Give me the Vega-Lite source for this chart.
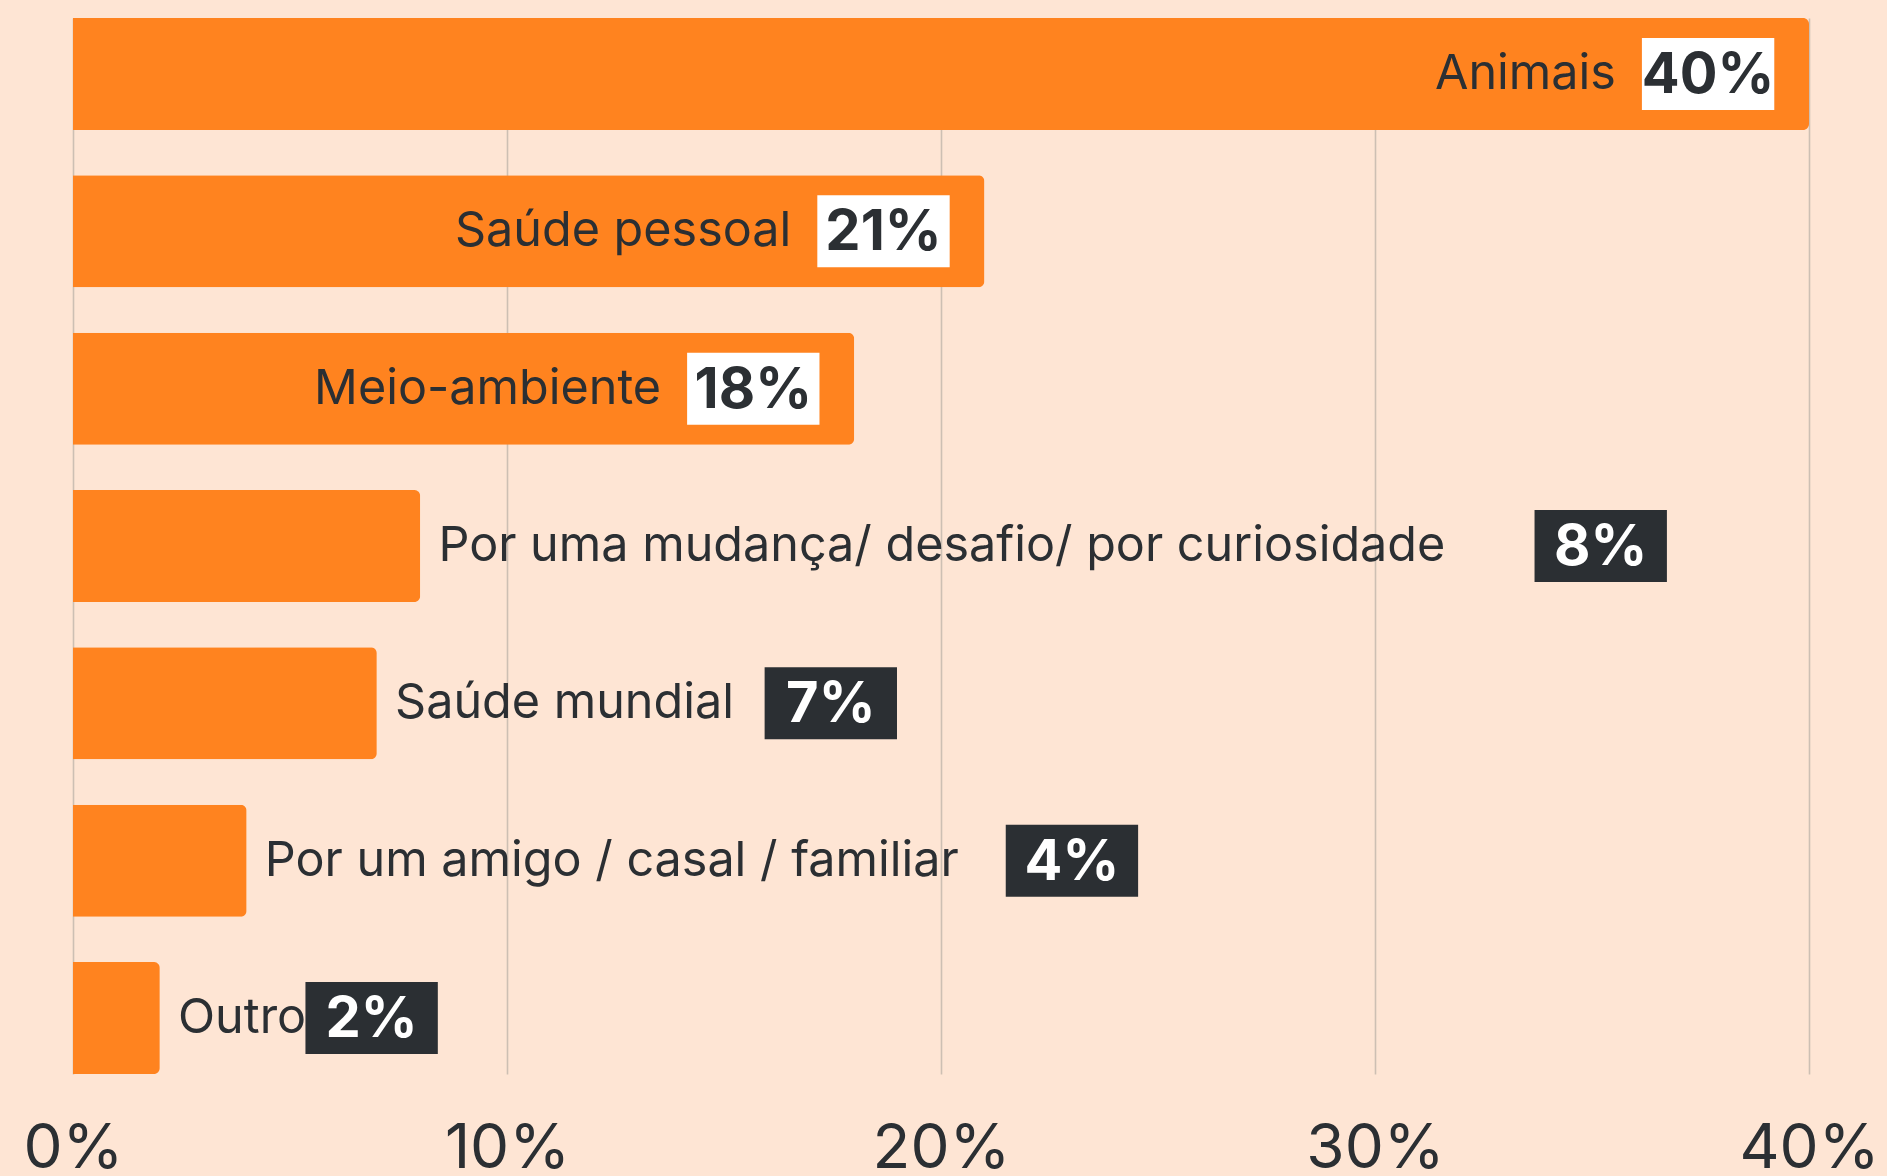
{
  "$schema": "https://vega.github.io/schema/vega-lite/v6.json",
  "width": 1736,
  "height": 1056,
  "autosize": {"type": "none"},
  "padding": {"left": 73, "top": 18, "right": 78, "bottom": 102},
  "background": "#FEE5D4",
  "config": {"view": {"stroke": null}, "font": "Inter"},
  "data": {
    "values": [
      {"label": "Animais", "value": 40},
      {"label": "Saúde pessoal", "value": 21},
      {"label": "Meio-ambiente", "value": 18},
      {"label": "Por uma mudança/ desafio/ por curiosidade", "value": 8},
      {"label": "Saúde mundial", "value": 7},
      {"label": "Por um amigo / casal / familiar", "value": 4},
      {"label": "Outro", "value": 2}
    ]
  },
  "transform": [
    {"calculate": "datum.value >= 15", "as": "inside"},
    {"calculate": "0.5 * (length(datum.label) + length(replace(datum.label, regexp('[ /iljftr]', 'g'), '')))", "as": "textUnits"},
    {"calculate": "datum.inside ? datum.value - 0.8 - 3.05 : datum.value + 0.744 * datum.textUnits + 0.38", "as": "boxStart"},
    {"calculate": "datum.boxStart + 3.05", "as": "boxEnd"},
    {"calculate": "(datum.boxStart + datum.boxEnd) / 2", "as": "boxMid"},
    {"calculate": "datum.inside ? datum.boxStart - 0.6 : datum.value + 0.42", "as": "textX"},
    {"calculate": "datum.value + '%'", "as": "pct"}
  ],
  "encoding": {
    "y": {
      "field": "label",
      "type": "nominal",
      "sort": ["Animais", "Saúde pessoal", "Meio-ambiente", "Por uma mudança/ desafio/ por curiosidade", "Saúde mundial", "Por um amigo / casal / familiar", "Outro"],
      "scale": {"paddingInner": 0.288, "paddingOuter": 0},
      "axis": null
    }
  },
  "layer": [
    {
      "mark": {"type": "bar", "color": "#FF831F", "cornerRadiusEnd": 6},
      "encoding": {
        "x": {
          "field": "value",
          "type": "quantitative",
          "scale": {"domain": [0, 40], "nice": false},
          "axis": {
            "values": [0, 10, 20, 30, 40],
            "labelExpr": "datum.value + '%'",
            "domain": false,
            "ticks": false,
            "grid": true,
            "gridColor": "#CDBFB3",
            "gridWidth": 1.6,
            "labelFontSize": 62,
            "labelFont": "Inter",
            "labelColor": "#2B2F33",
            "labelBaseline": "alphabetic",
            "labelPadding": 93,
            "labelFlush": false,
            "title": null,
            "zindex": 0
          }
        }
      }
    },
    {
      "mark": {"type": "bar", "size": 72},
      "encoding": {
        "x": {"field": "boxStart", "type": "quantitative"},
        "x2": {"field": "boxEnd"},
        "color": {
          "condition": {"test": "datum.inside", "value": "#FFFFFF"},
          "value": "#2B2F33"
        }
      }
    },
    {
      "transform": [{"filter": "datum.inside"}],
      "mark": {"type": "text", "align": "right", "baseline": "middle", "fontSize": 48.5, "color": "#2B2F33", "font": "Inter"},
      "encoding": {
        "x": {"field": "textX", "type": "quantitative"},
        "text": {"field": "label"}
      }
    },
    {
      "transform": [{"filter": "!datum.inside"}],
      "mark": {"type": "text", "align": "left", "baseline": "middle", "fontSize": 48.5, "color": "#2B2F33", "font": "Inter"},
      "encoding": {
        "x": {"field": "textX", "type": "quantitative"},
        "text": {"field": "label"}
      }
    },
    {
      "mark": {"type": "text", "align": "center", "baseline": "middle", "fontSize": 56, "fontWeight": "bold", "font": "Inter", "dy": 2},
      "encoding": {
        "x": {"field": "boxMid", "type": "quantitative"},
        "text": {"field": "pct"},
        "color": {
          "condition": {"test": "datum.inside", "value": "#2B2F33"},
          "value": "#FFFFFF"
        }
      }
    }
  ]
}
